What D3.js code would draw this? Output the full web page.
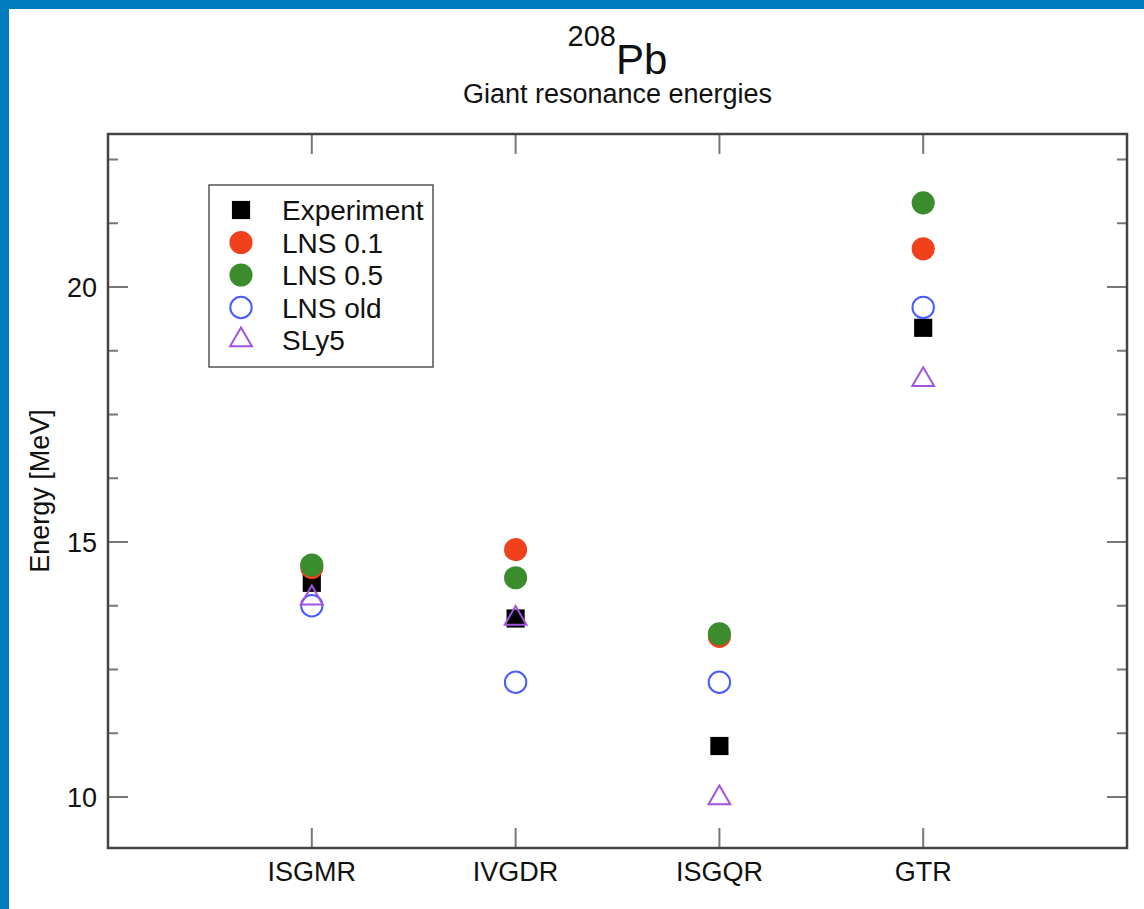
<!DOCTYPE html>
<html>
<head>
<meta charset="utf-8">
<script src="https://cdn.jsdelivr.net/npm/d3@7"></script>
<style>
  body { margin: 0; background: #fff; }
  svg { display: block; font-family: "Liberation Sans", Arial, sans-serif; }
</style>
</head>
<body>
<div id="chart"></div>
<script>
// data (MeV)
const categories = ["ISGMR", "IVGDR", "ISGQR", "GTR"]
const experiment = [14.2, 13.5, 11.0, 19.2]
const lns01 = [14.5, 14.85, 13.15, 20.75]
const lns05 = [14.55, 14.3, 13.2, 21.65]
const lnsOld = [13.75, 12.25, 12.25, 19.6]
const sly5 = [13.9, 13.5, 9.98, 18.18]
const yTicks = [10, 15, 20]

const series = [
  { name: "Experiment", values: experiment, type: d3.symbolSquare, size: 330, fill: "#000", stroke: "none" },
  { name: "LNS 0.1", values: lns01, type: d3.symbolCircle, size: 420, fill: "#f0401c", stroke: "none" },
  { name: "LNS 0.5", values: lns05, type: d3.symbolCircle, size: 420, fill: "#3a8c2c", stroke: "none" },
  { name: "LNS old", values: lnsOld, type: d3.symbolCircle, size: 360, fill: "none", stroke: "#4a5cff" },
  { name: "SLy5", values: sly5, type: d3.symbolTriangle, size: 205, fill: "none", stroke: "#a452e0" }
]

const W = 1144, H = 909
const margin = { top: 134, right: 17, bottom: 61, left: 108 }
const width = W - margin.left - margin.right,
  height = H - margin.top - margin.bottom

const svg = d3.select("#chart").append("svg")
  .attr("width", W)
  .attr("height", H)

// blue frame on top and left
svg.append("rect").attr("x", 0).attr("y", 0).attr("width", W).attr("height", 9).attr("fill", "#007bbd")
svg.append("rect").attr("x", 0).attr("y", 0).attr("width", 9).attr("height", H).attr("fill", "#007bbd")

const x = d3.scaleLinear().domain([0, 5]).range([0, width])
const y = d3.scaleLinear().domain([9, 23]).range([height, 0])

const g = svg.append("g")
  .attr("transform", "translate(" + margin.left + "," + margin.top + ")")

// title
const title = svg.append("text")
  .attr("x", margin.left + width / 2)
  .attr("y", 74)
  .attr("text-anchor", "middle")
  .attr("fill", "#111")
title.append("tspan").attr("font-size", "29px").attr("dy", "-28").text("208")
title.append("tspan").attr("font-size", "42px").attr("dy", "28").text("Pb")

svg.append("text")
  .attr("x", margin.left + width / 2)
  .attr("y", 103)
  .attr("text-anchor", "middle")
  .attr("font-size", "27px")
  .attr("fill", "#111")
  .text("Giant resonance energies")

// minor ticks every 1.25 MeV
const minor = d3.range(10, 23, 1.25)
const xIdx = d3.range(1, categories.length + 1)

const tickColor = "#777"
g.selectAll(".ytick-l").data(minor).enter().append("line")
  .attr("x1", 0).attr("x2", function (d) { return yTicks.includes(d) ? 20 : 10 })
  .attr("y1", function (d) { return y(d) }).attr("y2", function (d) { return y(d) })
  .attr("stroke", tickColor).attr("stroke-width", 2)
g.selectAll(".ytick-r").data(minor).enter().append("line")
  .attr("x1", width).attr("x2", function (d) { return width - (yTicks.includes(d) ? 20 : 10) })
  .attr("y1", function (d) { return y(d) }).attr("y2", function (d) { return y(d) })
  .attr("stroke", tickColor).attr("stroke-width", 2)
g.selectAll(".xtick-b").data(xIdx).enter().append("line")
  .attr("x1", function (d) { return x(d) }).attr("x2", function (d) { return x(d) })
  .attr("y1", height).attr("y2", height - 20)
  .attr("stroke", tickColor).attr("stroke-width", 2)
g.selectAll(".xtick-t").data(xIdx).enter().append("line")
  .attr("x1", function (d) { return x(d) }).attr("x2", function (d) { return x(d) })
  .attr("y1", 0).attr("y2", 20)
  .attr("stroke", tickColor).attr("stroke-width", 2)

// frame
g.append("rect")
  .attr("width", width).attr("height", height)
  .attr("fill", "none").attr("stroke", "#444").attr("stroke-width", 2.5)

// tick labels
g.selectAll(".ylab").data(yTicks).enter().append("text")
  .attr("x", -11).attr("y", function (d) { return y(d) })
  .attr("dy", "0.36em")
  .attr("text-anchor", "end")
  .attr("font-size", "27px").attr("fill", "#111")
  .text(function (d) { return d })

g.selectAll(".xlab").data(categories).enter().append("text")
  .attr("x", function (d, i) { return x(i + 1) }).attr("y", height + 33)
  .attr("text-anchor", "middle")
  .attr("font-size", "27px").attr("fill", "#111")
  .text(function (d) { return d })

svg.append("text")
  .attr("transform", "translate(49," + 491 + ") rotate(-90)")
  .attr("text-anchor", "middle")
  .attr("font-size", "27px").attr("fill", "#111")
  .text("Energy [MeV]")

// points
series.forEach(function (s) {
  g.selectAll(null).data(s.values).enter().append("path")
    .attr("transform", function (d, i) { return "translate(" + x(i + 1) + "," + y(d) + ")" })
    .attr("d", d3.symbol().type(s.type).size(s.size))
    .attr("fill", s.fill)
    .attr("stroke", s.stroke)
    .attr("stroke-width", 2)
})

// legend
const leg = svg.append("g").attr("transform", "translate(209,185)")
leg.append("rect")
  .attr("width", 224).attr("height", 182)
  .attr("fill", "#fff").attr("stroke", "#555").attr("stroke-width", 1.5)

series.forEach(function (s, i) {
  const cy = 25 + i * 32.5
  leg.append("path")
    .attr("transform", "translate(32," + cy + ")")
    .attr("d", d3.symbol().type(s.type).size(s.size))
    .attr("fill", s.fill)
    .attr("stroke", s.stroke)
    .attr("stroke-width", 2)
  leg.append("text")
    .attr("x", 73).attr("y", cy)
    .attr("dy", "0.36em")
    .attr("font-size", "28px").attr("fill", "#111")
    .text(s.name)
})
</script>
</body>
</html>
